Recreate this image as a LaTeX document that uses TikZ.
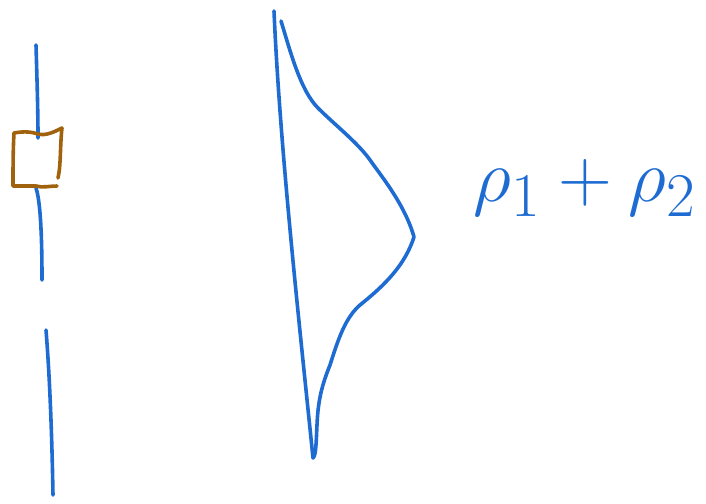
\documentclass[tikz,border=0pt]{standalone}
\usepackage{amsmath}
\definecolor{penblue}{RGB}{30,108,210}
\definecolor{penbrown}{RGB}{160,98,12}
\begin{document}
\begin{tikzpicture}[x=1pt,y=-1pt,
  pen/.style={line width=3.6pt,line cap=round,line join=round},
  bluepen/.style={pen,draw=penblue},
  brownpen/.style={pen,draw=penbrown}]
\useasboundingbox (0,0) rectangle (706,503);
% left vertical line, three pieces
\draw[bluepen] (36,45) .. controls (37,80) and (38,110) .. (38,138);
\draw[bluepen] (36,188) .. controls (40,200) and (42,230) .. (42,280);
\draw[bluepen] (46,330) .. controls (50,380) and (52,440) .. (53,495);
% brown box
\draw[brownpen] (14,133) .. controls (25,131) and (32,132) .. (38,134)
  .. controls (46,136) and (54,132) .. (62,128)
  .. controls (60,145) and (61,165) .. (58,178);
\draw[brownpen] (14,133) .. controls (13,150) and (13,170) .. (13,186)
  -- (36,186) .. controls (42,188) and (50,186) .. (57,186);
% distribution
\draw[bluepen] (274,11) .. controls (280,150) and (300,330) .. (313,458);
\draw[bluepen] (281,21) .. controls (290,50) and (300,90) .. (318,108)
  .. controls (335,125) and (358,143) .. (370,160)
  .. controls (382,177) and (405,205) .. (414,237)
  .. controls (405,265) and (385,285) .. (360,305)
  .. controls (345,318) and (338,340) .. (330,365)
  .. controls (322,385) and (318,400) .. (317,425)
  .. controls (316,445) and (316,455) .. (313,458);
% label
\node[text=penblue,anchor=center,scale=3] (lbl) at (585,188)
  {\Huge$\rho_1+\rho_2$};
\end{tikzpicture}
\end{document}
